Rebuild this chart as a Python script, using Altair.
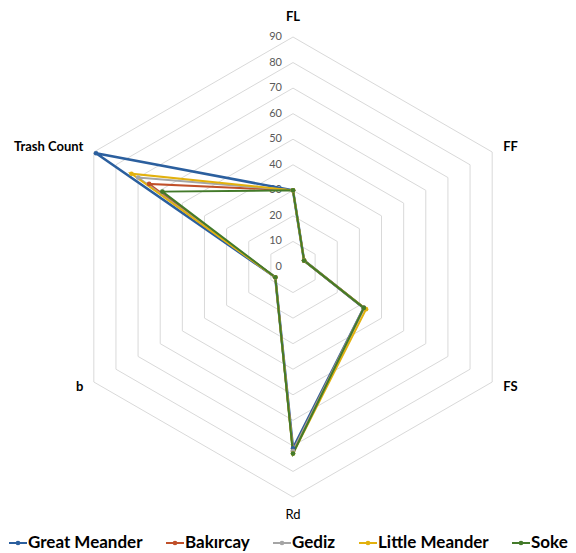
import altair as alt
import pandas as pd

# ---- data ----
axes_names = ["FL", "FF", "FS", "Rd", "b", "Trash Count"]
series_names = ["Great Meander", "Bakırcay", "Gediz", "Little Meander", "Soke"]
great_meander = [30, 5, 32, 71, 8, 89]
bakircay = [30, 5, 32, 72, 8, 65]
gediz = [30, 5, 32, 72, 8, 70]
little_meander = [30, 5, 33, 73, 8, 73]
soke = [30, 5, 32, 73, 8, 59]
grid_levels = [10, 20, 30, 40, 50, 60, 70, 80, 90]
tick_values = [0, 10, 20, 30, 40, 50, 60, 70, 80, 90]
colors = ["#2B5F9E", "#C0502A", "#A5A5A5", "#E2B10E", "#437A2A"]

all_series = [great_meander, bakircay, gediz, little_meander, soke]
rows = []
for s, vals in zip(series_names, all_series):
    for i, (a, v) in enumerate(zip(axes_names, vals)):
        rows.append({"series": s, "axis": a, "idx": i, "value": v})
df = pd.DataFrame(rows)

grid_df = pd.DataFrame([{"level": L, "idx": i} for L in grid_levels for i in range(len(axes_names))])
tick_df = pd.DataFrame({"value": tick_values})
lab_df = pd.DataFrame({"axis": axes_names, "idx": list(range(len(axes_names)))})

W, H = 560, 545
PX = 230 / 90.0
CX, CY = 285, 259
xs = alt.Scale(domain=[-CX / PX, (W - CX) / PX], nice=False, zero=False)
ys = alt.Scale(domain=[-(H - CY) / PX, CY / PX], nice=False, zero=False)

def polar(ch, field):
    return ch.transform_calculate(
        th="datum.idx * PI / 3",
    ).transform_calculate(
        px=f"datum['{field}'] * sin(datum.th)",
        py=f"datum['{field}'] * cos(datum.th)",
    )

grid = polar(alt.Chart(grid_df), "level").mark_line(
    interpolate="linear-closed", color="#D9D9D9", strokeWidth=1
).encode(
    x=alt.X("px:Q", scale=xs, axis=None),
    y=alt.Y("py:Q", scale=ys, axis=None),
    detail="level:N",
    order="idx:Q",
)

ticks = alt.Chart(tick_df).transform_calculate(zero="0").mark_text(
    align="right", baseline="middle", dx=-11, font="Lato", fontSize=11, color="#595959"
).encode(
    x=alt.X("zero:Q", scale=xs, axis=None),
    y=alt.Y("value:Q", scale=ys, axis=None),
    text="value:Q",
)

color_scale = alt.Scale(domain=series_names, range=colors)
legend_path = "M-1,0H1M-0.15,0A0.15,0.15,0,1,1,0.15,0A0.15,0.15,0,1,1,-0.15,0"

lines = polar(alt.Chart(df), "value").mark_line(interpolate="linear-closed").encode(
    x=alt.X("px:Q", scale=xs, axis=None),
    y=alt.Y("py:Q", scale=ys, axis=None),
    color=alt.Color(
        "series:N", scale=color_scale, sort=series_names,
        legend=alt.Legend(
            title=None, orient="none", legendX=0, legendY=525, direction="horizontal",
            columns=5, columnPadding=19, labelFont="Lato", labelFontSize=17,
            labelFontWeight="bold", labelColor="#000000", symbolType=legend_path,
            symbolSize=324, symbolStrokeWidth=2, labelOffset=0, padding=0,
            labelLimit=300,
        ),
    ),
    strokeWidth=alt.condition(alt.datum.series == "Great Meander", alt.value(2.6), alt.value(2)),
    detail="series:N",
    order="idx:Q",
)

points = polar(alt.Chart(df), "value").mark_circle(size=22, opacity=1).encode(
    x=alt.X("px:Q", scale=xs, axis=None),
    y=alt.Y("py:Q", scale=ys, axis=None),
    color=alt.Color("series:N", scale=color_scale, sort=series_names, legend=None),
)

base_lab = alt.Chart(lab_df).transform_calculate(
    th="datum.idx * PI / 3"
).transform_calculate(
    sx="sin(datum.th)", cy="cos(datum.th)"
).transform_calculate(
    lx="90 * datum.sx + (datum.sx > 0.1 ? 4.3 : (datum.sx < -0.1 ? -4.1 : 0))",
    ly="90 * datum.cy + (abs(datum.sx) < 0.1 ? (datum.cy > 0 ? 7.8 : -7.0) : (datum.cy > 0 ? 1.8 : -2.0))",
)

def lab_layer(filt, align, weight):
    return base_lab.transform_filter(filt).mark_text(
        align=align, baseline="middle", font="Lato", fontSize=13, fontWeight=weight, color="#000000"
    ).encode(
        x=alt.X("lx:Q", scale=xs, axis=None),
        y=alt.Y("ly:Q", scale=ys, axis=None),
        text="axis:N",
    )

lab_top = lab_layer("datum.axis == 'FL'", "center", "bold")
lab_bottom = lab_layer("datum.axis == 'Rd'", "center", "normal")
lab_right = lab_layer("datum.sx > 0.1", "left", "bold")
lab_left = lab_layer("datum.sx < -0.1", "right", "bold")

chart = alt.layer(
    grid, ticks, lines, points, lab_top, lab_bottom, lab_right, lab_left
).properties(
    width=W, height=H, autosize=alt.AutoSizeParams(type="none"), padding=0
).configure_view(stroke=None)

chart.save("out.html", embed_options={"renderer": "svg", "actions": False})
